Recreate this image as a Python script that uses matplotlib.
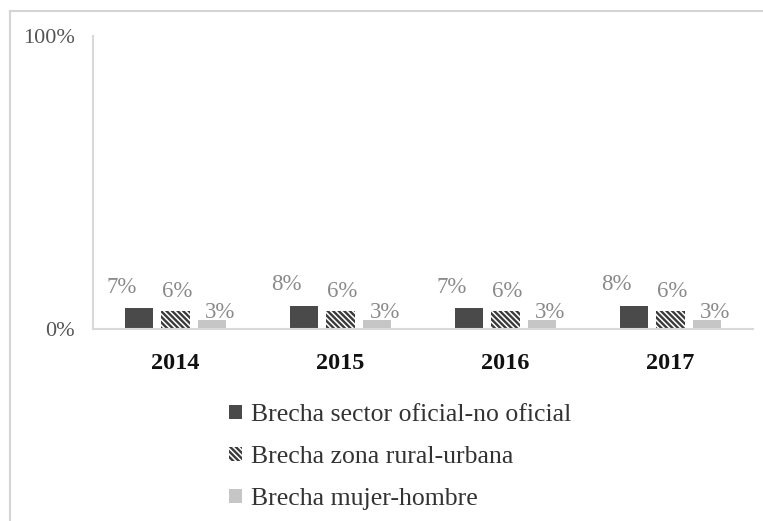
import matplotlib
matplotlib.use("Agg")
import matplotlib.pyplot as plt
import numpy as np
from matplotlib.lines import Line2D
from matplotlib.patches import Patch

plt.rcParams['font.family'] = ['Liberation Serif', 'DejaVu Serif']
plt.rcParams['hatch.linewidth'] = 1.7

years = ['2014', '2015', '2016', '2017']
series_names = ['Brecha sector oficial-no oficial',
                'Brecha zona rural-urbana',
                'Brecha mujer-hombre']
brecha_sector = [7, 8, 7, 8]
brecha_zona = [6, 6, 6, 6]
brecha_genero = [3, 3, 3, 3]

W, H = 763, 521
fig = plt.figure(figsize=(W / 100, H / 100), dpi=100)
ax = fig.add_axes([93 / W, 1 - 329 / H, 660 / W, 293 / H])

x = np.arange(len(years))
width = 0.17
step = 0.224
fill_colors = ['#4a4a4a', 'white', '#c6c6c6']
edge_colors = ['#4a4a4a', '#3a3a3a', '#c6c6c6']
hatches = [None, '\\\\\\\\\\\\', None]
# label offsets (px) relative to bar top-centre for each series
label_dx = [-17, 2, 8]
label_dy = [21, 20, 8]

all_series = [brecha_sector, brecha_zona, brecha_genero]
for i, vals in enumerate(all_series):
    pos = x + (i - 1) * step
    ax.bar(pos, vals, width=width, color=fill_colors[i],
           edgecolor=edge_colors[i], hatch=hatches[i], linewidth=0)
    for p, v in zip(pos, vals):
        ax.annotate(f'{v}%', xy=(p, v), xytext=(label_dx[i] * 0.72, label_dy[i] * 0.72),
                    textcoords='offset points', ha='center', va='center',
                    fontsize=16.5, color='#8a8a8a')

ax.set_xlim(-0.5, 3.5)
ax.set_ylim(0, 100)
ax.set_yticks([0, 100])
ax.set_yticklabels(['0%', '100%'], fontsize=16, color='#555555')
ax.set_xticks(x)
ax.set_xticklabels(years, fontsize=17.5, fontweight='bold', color='#111111')
ax.tick_params(axis='both', length=0)
ax.tick_params(axis='y', pad=13)
ax.tick_params(axis='x', pad=17)

for s in ['top', 'right']:
    ax.spines[s].set_visible(False)
for s in ['left', 'bottom']:
    ax.spines[s].set_color('#d9d9d9')
    ax.spines[s].set_linewidth(1.5)

handles = [Patch(facecolor=fill_colors[i], edgecolor=edge_colors[i],
                 hatch=hatches[i], linewidth=0, label=series_names[i])
           for i in range(3)]
fig.legend(handles=handles, loc='upper left',
           bbox_to_anchor=(229 / W, 1 - 404 / H), frameon=False,
           borderaxespad=0, borderpad=0,
           fontsize=18.5, labelcolor='#333333', handlelength=0.5,
           handleheight=0.5, handletextpad=0.35, labelspacing=0.78)

# outer frame of the chart area
fig.add_artist(Line2D([10 / W, 1], [1 - 11 / H, 1 - 11 / H],
                      transform=fig.transFigure, color='#d4d4d4', linewidth=1.5))
fig.add_artist(Line2D([10 / W, 10 / W], [0, 1 - 11 / H],
                      transform=fig.transFigure, color='#d4d4d4', linewidth=1.5))

fig.savefig('out.png', dpi=100, facecolor='white')
